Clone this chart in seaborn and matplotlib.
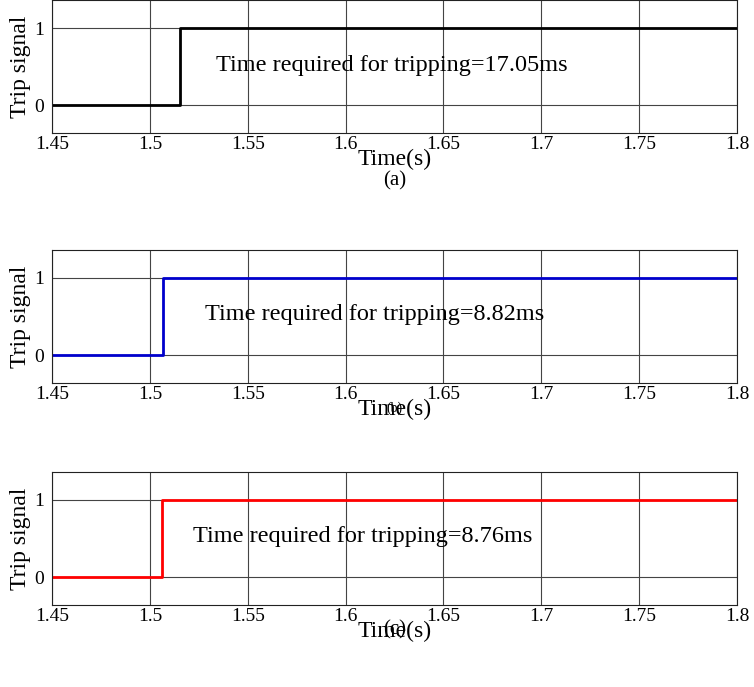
import matplotlib

matplotlib.use("Agg")
import matplotlib.pyplot as plt
import seaborn as sns

# step times (s) and signal levels
trip_times = [1.5154, 1.5067, 1.5062]
signal = [0, 1, 1]
colors = ["black", "#0000cc", "red"]
notes = ["Time required for tripping=17.05ms",
         "Time required for tripping=8.82ms",
         "Time required for tripping=8.76ms"]
note_x = [1.534, 1.528, 1.522]
tags = ["(a)", "(b)", "(c)"]
tag_sizes = [15, 10, 15]
tag_y = [-0.36, -0.19, -0.19]
xticks = [1.45, 1.5, 1.55, 1.6, 1.65, 1.7, 1.75, 1.8]
xtick_labels = ["1.45", "1.5", "1.55", "1.6", "1.65", "1.7", "1.75", "1.8"]

sns.set_style("white")
plt.rcParams["font.family"] = ["Liberation Serif", "DejaVu Serif"]
plt.rcParams["text.color"] = "black"
plt.rcParams["axes.labelcolor"] = "black"
plt.rcParams["xtick.color"] = "black"
plt.rcParams["ytick.color"] = "black"

fig = plt.figure(figsize=(7.54, 6.87), dpi=100)
bottoms = [0.806, 0.4425, 0.1194]

for i in range(3):
    ax = fig.add_axes([0.069, bottoms[i], 0.9085, 0.1936])
    t = [1.45, trip_times[i], 1.8]
    sns.lineplot(x=t, y=signal, ax=ax, color=colors[i], linewidth=2,
                 drawstyle="steps-post")
    ax.set_xlim(1.45, 1.8)
    ax.set_ylim(-0.36, 1.36)
    ax.set_xticks(xticks)
    ax.set_xticklabels(xtick_labels, fontsize=14)
    ax.set_yticks([0, 1])
    ax.set_yticklabels(["0", "1"], fontsize=14)
    ax.grid(True, color="#444444", linewidth=0.8)
    for s in ax.spines.values():
        s.set_color("#222222")
        s.set_linewidth(0.8)
    ax.tick_params(axis="x", length=0, pad=2)
    ax.tick_params(axis="y", length=0, pad=6)
    ax.set_ylabel("Trip signal", fontsize=17, labelpad=2)
    ax.set_xlabel("Time(s)", fontsize=17, labelpad=-3)
    ax.text(note_x[i], 0.52, notes[i], fontsize=17.5, va="center")
    ax.text(0.5, tag_y[i], tags[i], transform=ax.transAxes, ha="center",
            va="center", fontsize=tag_sizes[i])

fig.savefig("out.png", dpi=100)
